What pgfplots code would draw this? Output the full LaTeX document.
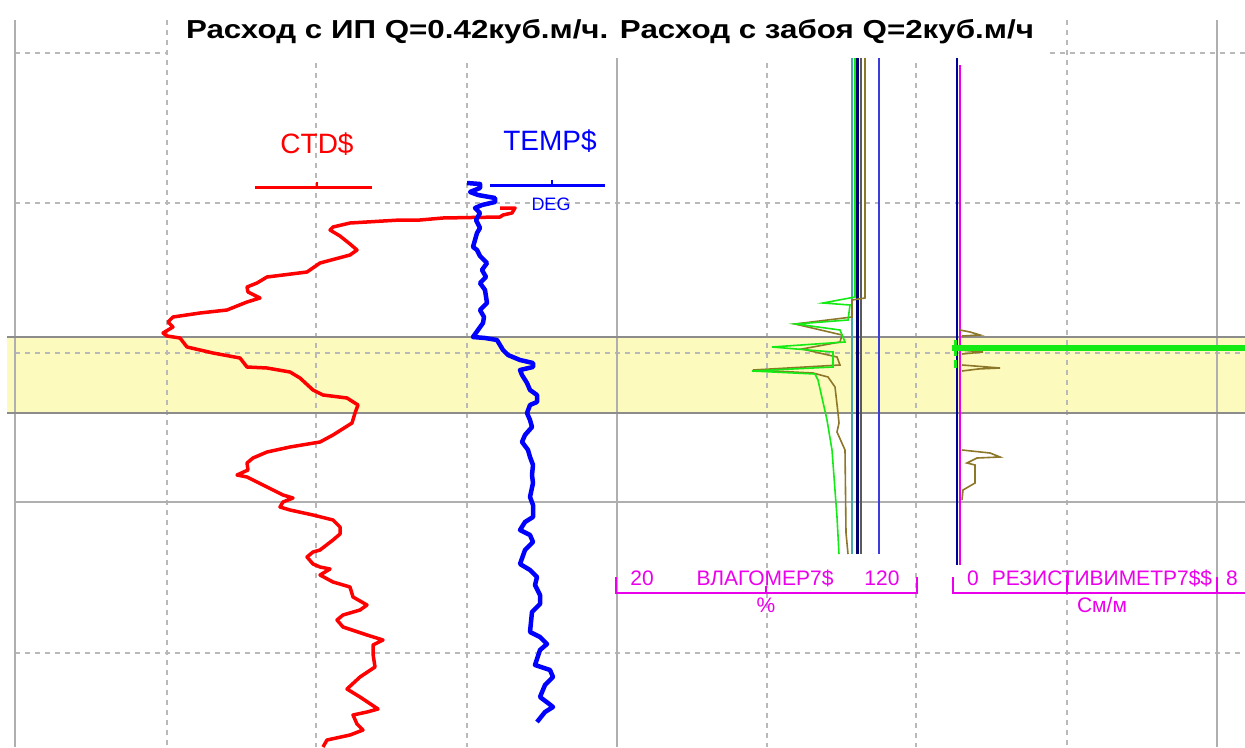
\documentclass[border=0pt]{standalone}
\usepackage{pgfplots}
\pgfplotsset{compat=1.18}
\usepackage{fontspec}
\setmainfont{Liberation Sans}
\definecolor{gridgray}{RGB}{185,185,185}
\definecolor{solidgray}{RGB}{175,175,175}
\definecolor{bandline}{RGB}{140,140,140}
\definecolor{bandfill}{RGB}{253,250,190}
\definecolor{logred}{RGB}{255,0,0}
\definecolor{logblue}{RGB}{0,0,255}
\definecolor{tealc}{RGB}{70,170,170}
\definecolor{navyc}{RGB}{0,0,110}
\definecolor{dgrayc}{RGB}{90,90,90}
\definecolor{bluec}{RGB}{60,60,220}
\definecolor{greenc}{RGB}{20,235,20}
\definecolor{olivec}{RGB}{140,120,40}
\definecolor{magc}{RGB}{235,0,235}
\begin{document}
\begin{tikzpicture}
\begin{axis}[scale only axis, width=1245pt, height=747pt,
  xmin=0, xmax=1245, ymin=0, ymax=747, y dir=reverse,
  hide axis, clip=true]
% highlighted interval
\addplot[draw=none, fill=bandfill] coordinates {(7,337)(1245,337)(1245,413)(7,413)} -- cycle;
% grid
\begin{scope}[gridgray, line width=1.4pt, dash pattern=on 5pt off 5pt]
\draw (axis cs:167,20) -- (axis cs:167,747);
\draw (axis cs:316,63) -- (axis cs:316,747);
\draw (axis cs:467,63) -- (axis cs:467,747);
\draw (axis cs:767,63) -- (axis cs:767,747);
\draw (axis cs:916,63) -- (axis cs:916,747);
\draw (axis cs:1067,20) -- (axis cs:1067,747);
\draw (axis cs:15,53) -- (axis cs:167,53);
\draw (axis cs:1050,53) -- (axis cs:1245,53);
\draw (axis cs:15,203) -- (axis cs:1245,203);
\draw (axis cs:15,353) -- (axis cs:1245,353);
\draw (axis cs:15,653) -- (axis cs:1245,653);
\end{scope}
\begin{scope}[solidgray, line width=1.5pt]
\draw (axis cs:15,20) -- (axis cs:15,747);
\draw (axis cs:617,58) -- (axis cs:617,747);
\draw (axis cs:1217,20) -- (axis cs:1217,747);
\draw (axis cs:15,502) -- (axis cs:1245,502);
\end{scope}
\draw[bandline, line width=1.8pt] (axis cs:7,337) -- (axis cs:1245,337);
\draw[bandline, line width=1.8pt] (axis cs:7,413) -- (axis cs:1245,413);
% title
\node[anchor=base, font=\fontsize{26}{30}\selectfont\bfseries] at (axis cs:610,38)
  {\scalebox{1.205}[1]{Расход с ИП Q=0.42куб.м/ч. Расход с забоя Q=2куб.м/ч}};
% CTD$ header
\node[anchor=base, logred, font=\fontsize{28}{32}\selectfont] at (axis cs:317,153) {CTD\$};
\draw[logred, line width=3pt] (axis cs:255,187) -- (axis cs:372,187);
\draw[logred, line width=1.2pt] (axis cs:317,182) -- (axis cs:317,187);
% TEMP$ header
\node[anchor=base, logblue, font=\fontsize{28}{32}\selectfont] at (axis cs:550,150) {TEMP\$};
\draw[logblue, line width=3pt] (axis cs:490,185) -- (axis cs:605,185);
\draw[logblue, line width=1.2pt] (axis cs:552,180) -- (axis cs:552,185);
\node[anchor=base, logblue, font=\fontsize{18}{20}\selectfont] at (axis cs:551,210) {DEG};
% CTD$ curve
\addplot[logred, line width=3.5pt, line join=round] coordinates {
(500,208)(515,208)(512,213)(503,215)(500,217)(443,218)(420,220)(400,220)(350,223)(333,227)(330,230)(340,236)(350,244)
(357,250)(350,255)(320,263)(307,272)(267,277)(257,283)(247,287)(248,292)(260,298)(247,302)(227,310)(200,313)(173,317)
(168,322)(173,327)(163,333)(167,336)(180,338)(187,347)(213,353)(240,358)(247,367)(267,368)(290,372)(300,378)(313,390)
(323,395)(347,398)(358,405)(355,413)(352,423)(333,435)(320,442)(290,447)(267,452)(253,458)(247,463)(248,470)(237,475)
(247,477)(267,487)(283,495)(293,498)(283,502)(280,507)(290,510)(313,515)(333,520)(340,527)(340,534)(333,540)(320,550)
(313,552)(307,557)(313,564)(320,567)(330,569)(320,575)(333,582)(350,587)(353,597)(367,605)(360,610)(343,615)(337,620)
(343,627)(367,635)(383,640)(373,645)(373,654)(375,667)(360,677)(347,689)(360,697)(378,709)(367,712)(353,715)(357,724)
(363,730)(350,735)(327,740)(323,747)};
% TEMP$ curve
\addplot[logblue, line width=4.5pt, line join=round] coordinates {
(467,183)(480,184)(480,188)(470,192)(478,195)(495,198)(495,202)(482,205)(475,208)(480,213)(476,220)(480,228)(477,233)
(475,240)(473,247)(477,250)(480,256)(487,263)(482,270)(486,277)(480,283)(485,290)(487,303)(480,310)(484,317)(483,323)
(478,330)(473,337)(485,338)(497,340)(500,345)(503,350)(508,355)(520,360)(533,363)(533,367)(520,370)(522,375)(527,383)
(530,390)(537,395)(537,402)(530,405)(527,413)(530,420)(532,427)(525,435)(522,442)(528,450)(530,457)(533,465)(532,475)
(533,483)(530,497)(533,505)(533,517)(525,522)(520,530)(530,535)(533,542)(525,550)(520,564)(530,570)(537,577)(535,585)
(540,595)(540,604)(532,612)(530,632)(540,637)(547,644)(540,650)(535,665)(550,670)(553,677)(545,685)(540,697)(548,703)
(553,707)(545,712)(537,722)};
% moisture meter track
\addplot[tealc, line width=1.6pt] coordinates {(852,58)(852,554)};
\addplot[navyc, line width=3pt] coordinates {(857,58)(857,554)};
\addplot[dgrayc, line width=2pt] coordinates {(861,58)(861,554)};
\addplot[bluec, line width=2pt] coordinates {(879,58)(879,554)};
\addplot[olivec, line width=1.6pt] coordinates {
(865,58)(865,298)(852,300)(852,317)(795,324)(842,335)(840,342)(802,349)(837,357)(840,365)(753,370)(813,373)
(828,377)(835,387)(838,413)(839,423)(837,432)(845,450)(846,533)(848,554)};
\addplot[greenc, line width=1.6pt] coordinates {
(855,58)(855,297)(823,303)(850,305)(848,320)(796,324)(840,330)(845,342)(772,347)(833,352)(833,367)(752,371)
(815,374)(818,380)(827,420)(832,450)(837,517)(839,554)};
% resistivity track
\addplot[navyc!70!blue, line width=2pt] coordinates {(957,58)(957,565)};
\addplot[magc, line width=1.5pt] coordinates {(960,65)(960,565)};
\addplot[olivec, line width=1.6pt] coordinates {(960,330)(970,332)(980,335)(962,336)};
\addplot[olivec, line width=1.6pt] coordinates {(960,350)(983,352)(962,354)};
\addplot[olivec, line width=1.6pt] coordinates {(962,365)(1000,368)(978,369)(962,371)};
\addplot[olivec, line width=1.6pt] coordinates {(962,450)(990,453)(1000,457)(977,458)(967,463)(975,465)(975,483)(963,490)(962,500)};
\addplot[greenc, line width=6pt] coordinates {(952,348)(1245,348)};
\addplot[greenc, line width=3pt] coordinates {(955,340)(955,356)};
\addplot[greenc, line width=3pt] coordinates {(955,360)(955,368)};
% bottom scales
\begin{scope}[magc, line width=1.5pt]
\draw (axis cs:616,577) -- (axis cs:616,593) -- (axis cs:917,593) -- (axis cs:917,577);
\draw (axis cs:766,586) -- (axis cs:766,593);
\draw (axis cs:953,577) -- (axis cs:953,593) -- (axis cs:1245,593);
\draw (axis cs:1217,577) -- (axis cs:1217,593);
\draw (axis cs:1067,575) -- (axis cs:1067,593);
\end{scope}
\begin{scope}[magc, font=\fontsize{21}{24}\selectfont]
\node[anchor=base] at (axis cs:642,585) {20};
\node[anchor=base] at (axis cs:765,585) {ВЛАГОМЕР7\$};
\node[anchor=base] at (axis cs:882,585) {120};
\node[anchor=base] at (axis cs:766,612) {\%};
\node[anchor=base] at (axis cs:973,585) {0};
\node[anchor=base] at (axis cs:1102,585) {РЕЗИСТИВИМЕТР7\$\$};
\node[anchor=base] at (axis cs:1232,585) {8};
\node[anchor=base] at (axis cs:1102,612) {См/м};
\end{scope}
\end{axis}
\pgfresetboundingbox
\path (current axis.south west) rectangle (current axis.north east);
\end{tikzpicture}
\end{document}
